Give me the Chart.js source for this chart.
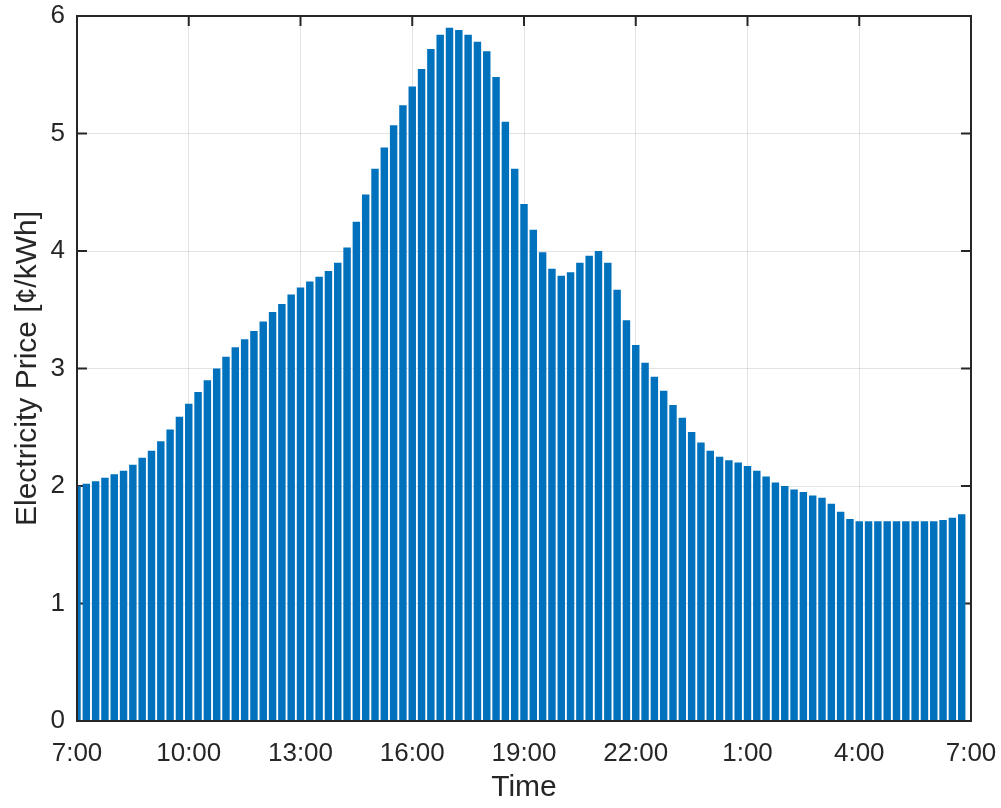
<!DOCTYPE html>
<html>
<head>
<meta charset="utf-8">
<script src="https://cdn.jsdelivr.net/npm/chart.js@4"></script>
<style>
  html, body { margin: 0; padding: 0; background: #ffffff; }
  #wrap { width: 1001px; height: 808px; }
</style>
</head>
<body>
<div id="wrap"><canvas id="c" width="1001" height="808"></canvas></div>
<script>
// Quarter-hour electricity prices, starting at 7:00 and running for 24 hours
const prices = [
  2.00, 2.02, 2.04, 2.07, 2.10, 2.13, 2.18, 2.24, 2.30, 2.38, 2.48, 2.59,
  2.70, 2.80, 2.90, 3.00, 3.10, 3.18, 3.25, 3.32, 3.40, 3.48, 3.55, 3.63,
  3.69, 3.74, 3.78, 3.83, 3.90, 4.03, 4.25, 4.48, 4.70, 4.88, 5.07, 5.24,
  5.40, 5.55, 5.72, 5.84, 5.90, 5.88, 5.84, 5.78, 5.70, 5.48, 5.10, 4.70,
  4.40, 4.18, 3.99, 3.85, 3.79, 3.82, 3.90, 3.96, 4.00, 3.90, 3.67, 3.41,
  3.20, 3.05, 2.93, 2.81, 2.69, 2.58, 2.46, 2.37, 2.30, 2.25, 2.22, 2.20,
  2.17, 2.13, 2.08, 2.03, 2.00, 1.97, 1.95, 1.92, 1.90, 1.85, 1.78, 1.72,
  1.70, 1.70, 1.70, 1.70, 1.70, 1.70, 1.70, 1.70, 1.70, 1.71, 1.73, 1.76
];

// Time labels every 3 hours (12 quarter-hour slots)
const timeTicks = ['7:00', '10:00', '13:00', '16:00', '19:00', '22:00', '1:00', '4:00', '7:00'];
const slotsPerTick = 12;

// Price axis ticks
const priceTicks = [0, 1, 2, 3, 4, 5, 6];

const AXIS = '#262626';
const FONT = "'Liberation Sans', Arial, Helvetica, sans-serif";

// Box outline with inward tick marks on all four sides
const boxPlugin = {
  id: 'box',
  beforeDatasetsDraw(chart) {
    const { ctx, chartArea: a, scales: { x, y } } = chart;
    const len = 10;
    ctx.save();
    ctx.strokeStyle = AXIS;
    ctx.lineWidth = 2;
    ctx.beginPath();
    for (let i = 0; i < timeTicks.length; i++) {
      const px = x.getPixelForValue(i * slotsPerTick);
      ctx.moveTo(px, a.bottom); ctx.lineTo(px, a.bottom - len);
      ctx.moveTo(px, a.top); ctx.lineTo(px, a.top + len);
    }
    for (const v of priceTicks) {
      const py = y.getPixelForValue(v);
      ctx.moveTo(a.left, py); ctx.lineTo(a.left + len, py);
      ctx.moveTo(a.right, py); ctx.lineTo(a.right - len, py);
    }
    ctx.stroke();
    ctx.restore();
  },
  afterDatasetsDraw(chart) {
    const { ctx, chartArea: a } = chart;
    ctx.save();
    ctx.strokeStyle = AXIS;
    ctx.lineWidth = 2;
    ctx.strokeRect(a.left, a.top, a.right - a.left, a.bottom - a.top);
    ctx.restore();
  }
};

new Chart(document.getElementById('c'), {
  type: 'bar',
  data: {
    datasets: [{
      data: prices.map((p, i) => ({ x: i, y: p })),
      backgroundColor: '#0072BD',
      borderWidth: 0,
      barPercentage: 0.8,
      categoryPercentage: 1.0,
      clip: 0
    }]
  },
  options: {
    responsive: false,
    animation: false,
    events: [],
    layout: { padding: { top: 16, right: 30, bottom: 0, left: 0 } },
    plugins: { legend: { display: false }, tooltip: { enabled: false } },
    scales: {
      x: {
        type: 'linear',
        offset: false,
        min: 0,
        max: prices.length,
        afterFit(s) { s.height = 87; s.paddingLeft = 0; s.paddingRight = 0; },
        afterBuildTicks(s) {
          s.ticks = timeTicks.map((_, i) => ({ value: i * slotsPerTick }));
        },
        ticks: {
          autoSkip: false,
          maxRotation: 0,
          padding: 17,
          color: AXIS,
          font: { family: FONT, size: 26 },
          callback: (v) => timeTicks[Math.round(v / slotsPerTick)]
        },
        grid: { color: 'rgba(0,0,0,0.11)', lineWidth: 1, drawTicks: false, offset: false },
        border: { display: false },
        title: {
          display: true,
          text: 'Time',
          color: AXIS,
          font: { family: FONT, size: 30 },
          padding: { top: 0, bottom: 2 }
        }
      },
      y: {
        min: 0,
        max: 6,
        afterFit(s) { s.width = 77; s.paddingTop = 0; s.paddingBottom = 0; },
        afterBuildTicks(s) {
          s.ticks = priceTicks.map(v => ({ value: v }));
        },
        ticks: {
          padding: 12,
          color: AXIS,
          font: { family: FONT, size: 26 }
        },
        grid: { color: 'rgba(0,0,0,0.11)', lineWidth: 1, drawTicks: false },
        border: { display: false },
        title: {
          display: true,
          text: 'Electricity Price [¢/kWh]',
          color: AXIS,
          font: { family: FONT, size: 30 },
          padding: { top: 10, bottom: 0 }
        }
      }
    }
  },
  plugins: [boxPlugin]
});
</script>
</body>
</html>
